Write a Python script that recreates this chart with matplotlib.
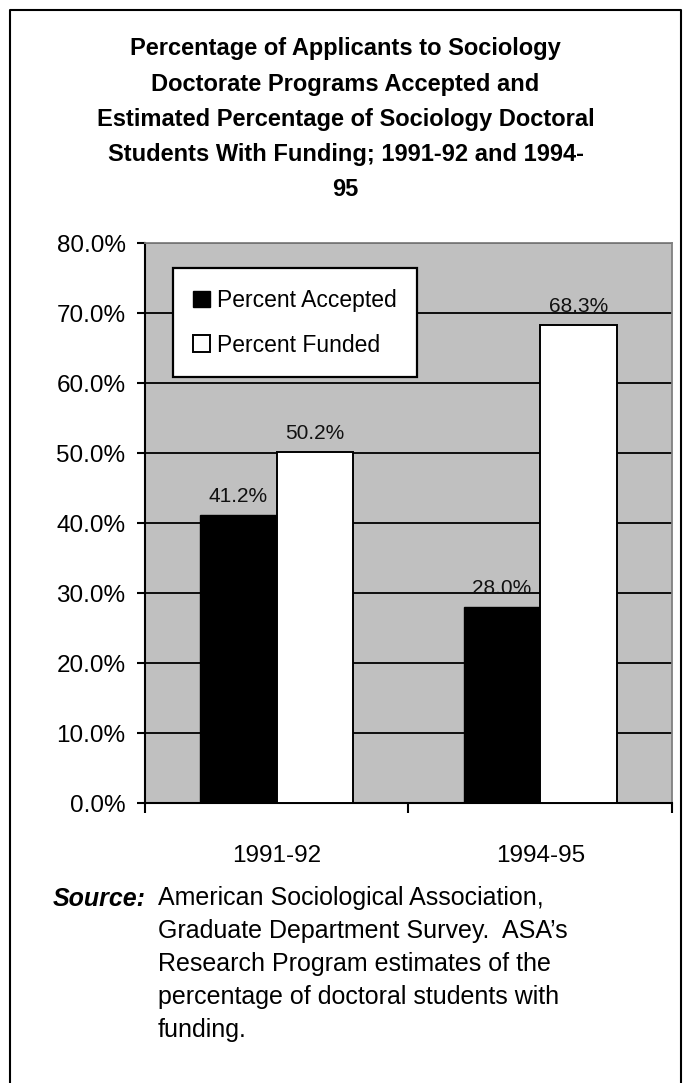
import matplotlib
matplotlib.use('Agg')
import matplotlib.pyplot as plt
import numpy as np
from matplotlib.lines import Line2D

plt.rcParams['font.family'] = ['Liberation Sans', 'DejaVu Sans']

# data
years = ['1991-92', '1994-95']
accepted = [41.2, 28.0]
funded = [50.2, 68.3]
labels = ['Percent Accepted', 'Percent Funded']
yticks = [0, 10, 20, 30, 40, 50, 60, 70, 80]

title = ('Percentage of Applicants to Sociology\n'
         'Doctorate Programs Accepted and\n'
         'Estimated Percentage of Sociology Doctoral\n'
         'Students With Funding; 1991-92 and 1994-\n'
         '95')

fig = plt.figure(figsize=(6.91, 10.83), dpi=100)
ax = fig.add_axes([0.2098, 0.2585, 0.7627, 0.5171])
ax.set_facecolor('#c0c0c0')

x = np.arange(len(years))
w = 0.29
b1 = ax.bar(x - w / 2, accepted, w, color='black', edgecolor='black', linewidth=1, zorder=3, label=labels[0])
b2 = ax.bar(x + w / 2, funded, w, color='white', edgecolor='black', linewidth=1.4, zorder=3, label=labels[1])

# value labels above bars
for bars, vals in [(b1, accepted), (b2, funded)]:
    for r, v in zip(bars, vals):
        ax.text(r.get_x() + r.get_width() / 2, v + 1.8, f'{v:.1f}%', ha='center', va='baseline',
                fontsize=15, color='#111111', zorder=4)

ax.set_ylim(0, 80)
ax.set_xlim(-0.5, 1.5)
ax.set_yticks(yticks)
ax.set_yticklabels([f'{t:.1f}%' for t in yticks], fontsize=17.5)
ax.yaxis.grid(True, color='black', linewidth=1.3, zorder=1)
ax.set_axisbelow(True)

ax.set_xticks([-0.5, 0.5, 1.5])
ax.set_xticklabels([])
ax.set_xticks(x, minor=True)
ax.set_xticklabels(years, minor=True, fontsize=17.5)
ax.tick_params(axis='x', which='minor', length=0, pad=30)
ax.tick_params(axis='x', which='major', length=7, width=1.5, direction='out')
ax.tick_params(axis='y', length=6, width=1.5, direction='out', pad=8)

ax.spines['left'].set_linewidth(1.5)
ax.spines['bottom'].set_linewidth(1.5)
for s in ['top', 'right']:
    ax.spines[s].set_color('#808080')
    ax.spines[s].set_linewidth(1.3)

leg = ax.legend(loc='upper left', bbox_to_anchor=(0.0525, 0.955), fontsize=16.5, frameon=True,
                fancybox=False, borderaxespad=0, handlelength=0.73, handleheight=0.73,
                handletextpad=0.3, labelspacing=0.95, borderpad=0.9)
leg.get_frame().set_edgecolor('black')
leg.get_frame().set_linewidth(1.6)
leg.get_frame().set_facecolor('white')
leg.get_frame().set_alpha(1)
leg.set_zorder(5)

fig.text(0.5, 0.9654, title, ha='center', va='top', fontsize=17, fontweight='bold',
         linespacing=1.67)

# outer border, open at the bottom
fig.add_artist(Line2D([0.0145, 0.0145, 0.9855, 0.9855], [0.0, 0.9908, 0.9908, 0.0],
                      transform=fig.transFigure, color='black', linewidth=1.5))

src = ('American Sociological Association,\n'
       'Graduate Department Survey.  ASA\u2019s\n'
       'Research Program estimates of the\n'
       'percentage of doctoral students with\n'
       'funding.')
fig.text(0.0767, 0.1634, 'Source:', fontsize=18, fontweight='bold', style='italic', va='baseline')
fig.text(0.2287, 0.1819, src, fontsize=18, va='top', linespacing=1.47)

fig.savefig('out.png', dpi=100)
